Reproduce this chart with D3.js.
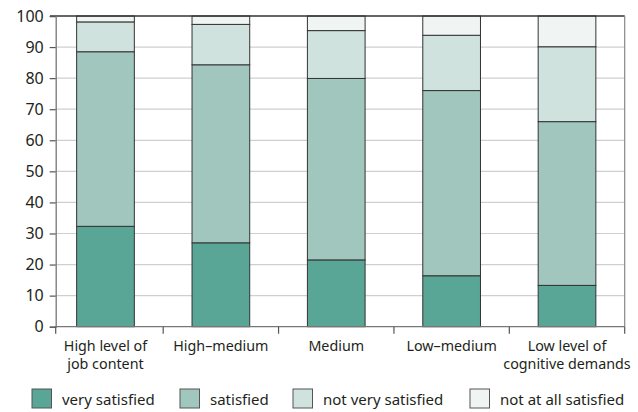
<!DOCTYPE html>
<html>
<head>
<meta charset="utf-8">
<script src="https://cdn.jsdelivr.net/npm/d3@7"></script>
<style>
  html, body { margin: 0; padding: 0; background: #fff; }
  svg { display: block; }
  text { font-family: "Noto Sans", "Open Sans", sans-serif; fill: #231f20; }
</style>
</head>
<body>
<svg id="chart" width="638" height="412"></svg>
<script>
const categories = [
  ["High level of", "job content"],
  ["High\u2013medium"],
  ["Medium"],
  ["Low\u2013medium"],
  ["Low level of", "cognitive demands"]
];
const seriesNames = ["very satisfied", "satisfied", "not very satisfied", "not at all satisfied"];
const verySatisfied    = [32.3, 27.0, 21.5, 16.4, 13.3];
const satisfied        = [56.2, 57.3, 58.4, 59.6, 52.7];
const notVerySatisfied = [ 9.6, 13.0, 15.4, 17.8, 24.1];
const notAtAllSatisfied= [ 1.9,  2.7,  4.7,  6.2,  9.9];
const yTicks = [0, 10, 20, 30, 40, 50, 60, 70, 80, 90, 100];
const colors = ["#59a697", "#a1c6be", "#cfe2de", "#f0f5f3"];

const svg = d3.select("#chart");
const plotLeft = 55.7, plotRight = 624.7, plotTop = 16, plotBottom = 326.7;

const rows = categories.map((c, i) => ({
  idx: i,
  "very satisfied": verySatisfied[i],
  "satisfied": satisfied[i],
  "not very satisfied": notVerySatisfied[i],
  "not at all satisfied": notAtAllSatisfied[i]
}));

const x = d3.scaleBand().domain(d3.range(categories.length)).range([47.8, plotRight]).padding(0);
const y = d3.scaleLinear().domain([0, 100]).range([plotBottom, plotTop]);

// gridlines
svg.append("g").selectAll("line").data(yTicks.filter(t => t > 0 && t < 100)).join("line")
  .attr("x1", plotLeft).attr("x2", plotRight)
  .attr("y1", d => y(d)).attr("y2", d => y(d))
  .attr("stroke", "#cfcfcf").attr("stroke-width", 1.2);

// stacked bars
const stack = d3.stack().keys(seriesNames)(rows);
const barW = x.bandwidth() * 0.5;
svg.append("g").selectAll("g").data(stack).join("g")
  .attr("fill", (d, i) => colors[i])
  .selectAll("rect").data(d => d).join("rect")
  .attr("x", d => x(d.data.idx) + x.bandwidth() / 2 - barW / 2)
  .attr("width", barW)
  .attr("y", d => y(d[1]))
  .attr("height", d => y(d[0]) - y(d[1]))
  .attr("stroke", "#333")
  .attr("stroke-width", 1);

// frame
svg.append("line").attr("x1", 50).attr("x2", plotRight).attr("y1", plotTop).attr("y2", plotTop)
  .attr("stroke", "#333").attr("stroke-width", 1.3);
svg.append("line").attr("x1", plotRight).attr("x2", plotRight).attr("y1", plotTop).attr("y2", plotBottom)
  .attr("stroke", "#888").attr("stroke-width", 1.2);

// y axis
const yAxis = d3.axisLeft(y).tickValues(yTicks).tickSize(6).tickPadding(6).tickFormat(d3.format("d"));
const gy = svg.append("g").attr("transform", `translate(${plotLeft},0)`).call(yAxis);
gy.select(".domain").attr("stroke", "#777").attr("stroke-width", 1.3);
gy.selectAll(".tick line").attr("stroke", "#555").attr("stroke-width", 1.2);
gy.selectAll("text").style("font-size", "16px").attr("fill", "#231f20").style("font-family", "'Noto Sans', sans-serif");

// x axis
svg.append("line").attr("x1", plotLeft).attr("x2", plotRight).attr("y1", plotBottom).attr("y2", plotBottom)
  .attr("stroke", "#777").attr("stroke-width", 1.3);
const boundaries = [plotLeft].concat(d3.range(1, categories.length).map(i => x(i)), [plotRight]);
svg.append("g").selectAll("line").data(boundaries).join("line")
  .attr("x1", d => d).attr("x2", d => d)
  .attr("y1", plotBottom).attr("y2", plotBottom + 7)
  .attr("stroke", "#555").attr("stroke-width", 1.2);

const xl = svg.append("g").selectAll("text").data(categories).join("text")
  .attr("text-anchor", "middle")
  .attr("x", (d, i) => x(i) + x.bandwidth() / 2)
  .attr("y", 350.5)
  .style("font-size", "14.3px");
xl.selectAll("tspan").data(d => d).join("tspan")
  .attr("x", function() { return d3.select(this.parentNode).attr("x"); })
  .attr("dy", (d, i) => i === 0 ? 0 : 18.5)
  .text(d => d);

// legend
const legendX = [32, 180, 293, 470];
const lg = svg.append("g").selectAll("g").data(seriesNames).join("g")
  .attr("transform", (d, i) => `translate(${legendX[i]},389)`);
lg.append("rect").attr("width", 19.5).attr("height", 19).attr("fill", (d, i) => colors[i])
  .attr("stroke", "#555").attr("stroke-width", 1);
lg.append("text").attr("x", 30).attr("y", 16).style("font-size", "15px").text(d => d);
</script>
</body>
</html>
